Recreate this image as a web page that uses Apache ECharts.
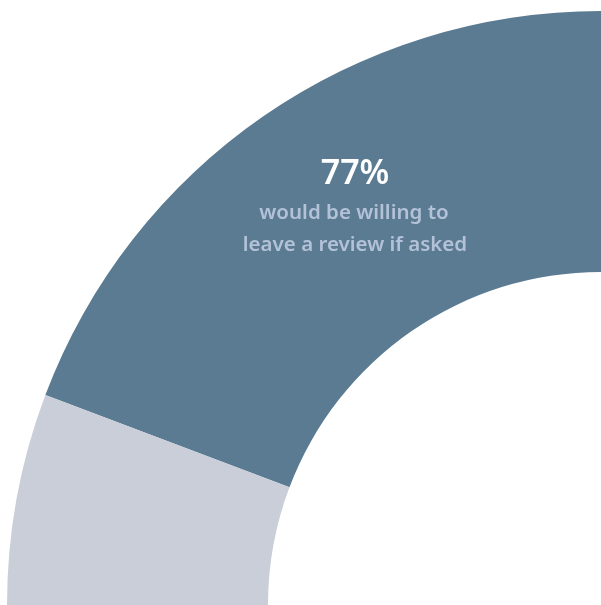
<!DOCTYPE html>
<html>
<head>
<meta charset="utf-8">
<script src="https://cdn.jsdelivr.net/npm/echarts@6/dist/echarts.min.js"></script>
<style>
  html, body { margin: 0; padding: 0; background: #ffffff; }
  #chart { width: 601px; height: 605px; }
</style>
</head>
<body>
<div id="chart"></div>
<script>
// share of respondents
const labels = ['would be willing to leave a review if asked', 'not willing'];
const values = [77, 23];
const colors = ['#5b7b93', '#c9ced8'];
const headline = '77%';
const captionLines = ['would be willing to', 'leave a review if asked'];

const chart = echarts.init(document.getElementById('chart'));

chart.setOption({
  animation: false,
  series: [{
    type: 'pie',
    center: [601, 605],
    radius: [333, 594],
    startAngle: 90,
    endAngle: 180,
    clockwise: false,
    silent: true,
    z: 1,
    label: { show: false },
    labelLine: { show: false },
    data: labels.map((name, i) => ({
      name: name,
      value: values[i],
      itemStyle: { color: colors[i] }
    }))
  }],
  graphic: {
    elements: [
      {
        type: 'text',
        x: 355, y: 174, z: 100,
        style: {
          text: headline, align: 'center', verticalAlign: 'middle',
          fill: '#ffffff', font: '600 34px "Noto Sans"'
        }
      },
      {
        type: 'text',
        x: 354, y: 213, z: 100,
        style: {
          text: captionLines[0], align: 'center', verticalAlign: 'middle',
          fill: '#b3c2d6', font: '600 20.5px "Noto Sans"'
        }
      },
      {
        type: 'text',
        x: 355, y: 245, z: 100,
        style: {
          text: captionLines[1], align: 'center', verticalAlign: 'middle',
          fill: '#b3c2d6', font: '600 20.5px "Noto Sans"'
        }
      }
    ]
  }
});
</script>
</body>
</html>
